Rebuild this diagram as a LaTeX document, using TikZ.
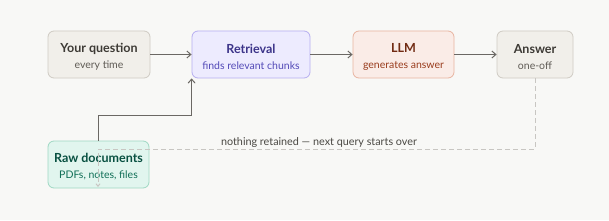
\documentclass[tikz,border=0pt]{standalone}
\usepackage{fontspec}
\setmainfont{Lato}
\usetikzlibrary{arrows.meta}
\definecolor{bgc}{HTML}{F8F8F6}
\definecolor{grayfill}{HTML}{F1EFEA}
\definecolor{graydraw}{HTML}{CFCBC3}
\definecolor{graytitle}{HTML}{3D3A35}
\definecolor{graysub}{HTML}{5F5B55}
\definecolor{purpfill}{HTML}{EDEBFE}
\definecolor{purpdraw}{HTML}{B6AEF0}
\definecolor{purptitle}{HTML}{3C3489}
\definecolor{purpsub}{HTML}{534AB7}
\definecolor{redfill}{HTML}{FAECE7}
\definecolor{reddraw}{HTML}{E8B4A0}
\definecolor{redtitle}{HTML}{712B13}
\definecolor{redsub}{HTML}{993C1D}
\definecolor{grnfill}{HTML}{E1F5EE}
\definecolor{grndraw}{HTML}{9FD8C3}
\definecolor{grntitle}{HTML}{085041}
\definecolor{grnsub}{HTML}{0F6E56}
\definecolor{arrowc}{HTML}{6B6864}
\definecolor{dashc}{HTML}{C8C6C2}
\definecolor{labelc}{HTML}{4A4843}
\newcommand{\boxtext}[4]{\rule{0pt}{14pt}\textcolor{#1}{\fontsize{12.5}{14}\selectfont\bfseries #2}\\[4pt]\textcolor{#3}{\fontsize{10.5}{12}\selectfont #4}}
\begin{document}
\begin{tikzpicture}[x=1pt,y=1pt,
  box/.style={draw, rounded corners=6pt, line width=0.8pt, minimum height=47pt, align=center, inner sep=0pt},
  conn/.style={draw=arrowc, line width=1pt, -{Straight Barb[length=4pt,width=7pt]}},
  dconn/.style={draw=dashc, line width=1pt, dash pattern=on 5pt off 3pt, -{Straight Barb[length=2.5pt,width=4pt]}}]
\fill[bgc] (0,0) rectangle (609,220);
\useasboundingbox (0,0) rectangle (609,220);
\node[box, fill=grayfill, draw=graydraw, minimum width=102pt] (q) at (99,165.5) {\boxtext{graytitle}{Your question}{graysub}{every time}};
\node[box, fill=purpfill, draw=purpdraw, minimum width=118pt] (r) at (251,165.5) {\boxtext{purptitle}{Retrieval}{purpsub}{finds relevant chunks}};
\node[box, fill=redfill, draw=reddraw, minimum width=101pt] (l) at (403.5,165.5) {\boxtext{redtitle}{LLM}{redsub}{generates answer}};
\node[box, fill=grayfill, draw=graydraw, minimum width=76pt] (a) at (535,165.5) {\boxtext{graytitle}{Answer}{graysub}{one-off}};
\node[box, fill=grnfill, draw=grndraw, minimum width=101pt] (d) at (98.5,55.5) {\boxtext{grntitle}{Raw documents}{grnsub}{PDFs, notes, files}};
\path[conn] (q.east) -- (r.west);
\path[conn] (r.east) -- (l.west);
\path[conn] (l.east) -- (a.west);
\coordinate (bend) at (98,105);
\path[conn] (d.north -| bend) -- (bend) -- (bend -| r.south west) -- (r.south west);
\coordinate (dc) at (535,71);
\coordinate (dd) at (98,33);
\path[dconn] (a.south) -- (dc) -- (dc -| dd) -- (dd);
\node[text=labelc, font=\fontsize{10.8}{12}\selectfont, anchor=base] (lab) at (319,75) {nothing retained — next query starts over};
\end{tikzpicture}
\end{document}
